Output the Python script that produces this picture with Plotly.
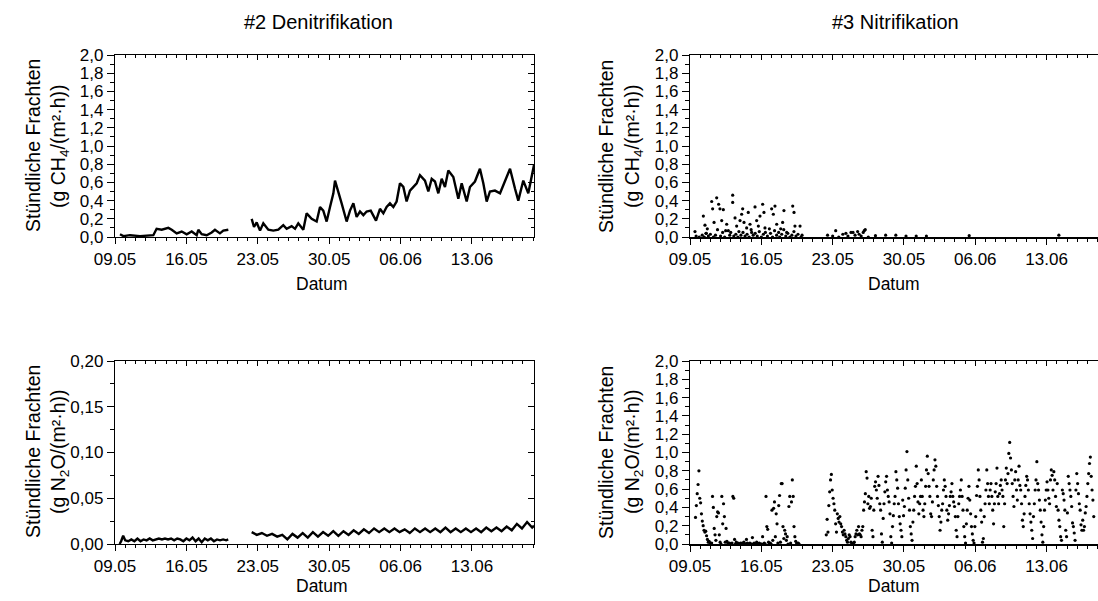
import pandas as pd
import plotly.graph_objects as go

# ---------------- data (days after 09.05) ----------------
START = pd.Timestamp("2021-05-09")

# #2 Denitrifikation - CH4 (g CH4/(m2 h)), two measuring periods
den_ch4_day_1 = [0.49, 0.82, 1.47, 2.45, 3.76, 4.08, 4.58, 5.23, 5.56, 6.05, 6.54, 7.03,
                 7.52, 8.01, 8.17, 8.50, 8.99, 9.48, 9.80, 10.29, 10.62, 11.11]
den_ch4_val_1 = [0.03, 0.01, 0.02, 0.01, 0.02, 0.09, 0.08, 0.10, 0.08, 0.04, 0.06, 0.03,
                 0.06, 0.02, 0.08, 0.03, 0.02, 0.05, 0.08, 0.04, 0.07, 0.08]
den_ch4_day_2 = [13.40, 13.63, 13.89, 14.22, 14.54, 15.03, 15.52, 16.01, 16.50, 16.83, 17.32,
                 17.65, 17.97, 18.46, 18.79, 19.28, 19.77, 20.10, 20.42, 20.75, 21.08, 21.41,
                 21.57, 21.90, 22.22, 22.71, 23.04, 23.37, 23.69, 24.02, 24.35, 24.67, 25.07,
                 25.59, 25.98, 26.31, 26.63, 26.96, 27.29, 27.61, 27.94, 28.27, 28.59, 28.92,
                 29.25, 29.58, 29.90, 30.39, 30.72, 31.05, 31.37, 31.70, 32.03, 32.35, 32.68,
                 33.17, 33.66, 33.99, 34.48, 34.80, 35.29, 35.78, 36.11, 36.44, 36.76, 37.25,
                 37.75, 38.24, 38.73, 39.22, 39.54, 40.03, 40.52, 41.08]
den_ch4_val_2 = [0.20, 0.11, 0.16, 0.07, 0.15, 0.08, 0.07, 0.08, 0.13, 0.09, 0.12,
                 0.09, 0.15, 0.08, 0.26, 0.20, 0.17, 0.33, 0.29, 0.17, 0.33, 0.48,
                 0.62, 0.48, 0.37, 0.17, 0.29, 0.37, 0.22, 0.28, 0.24, 0.28, 0.29,
                 0.18, 0.31, 0.26, 0.33, 0.37, 0.33, 0.39, 0.59, 0.55, 0.39, 0.51,
                 0.55, 0.59, 0.68, 0.62, 0.50, 0.64, 0.61, 0.48, 0.64, 0.55, 0.73,
                 0.66, 0.42, 0.59, 0.39, 0.55, 0.61, 0.75, 0.59, 0.39, 0.50, 0.51,
                 0.48, 0.62, 0.75, 0.53, 0.40, 0.62, 0.48, 0.79]

# #2 Denitrifikation - N2O (g N2O/(m2 h))
den_n2o_day_1 = [0.45, 0.60, 0.80, 1.00, 1.30, 1.60, 1.90, 2.20, 2.50, 2.80, 3.10, 3.40, 3.70,
                 4.00, 4.30, 4.60, 4.90, 5.20, 5.50, 5.80, 6.10, 6.40, 6.70, 7.00, 7.30, 7.60,
                 7.90, 8.20, 8.50, 8.80, 9.10, 9.40, 9.70, 10.00, 10.30, 10.60, 10.90, 11.10]
den_n2o_val_1 = [0.000, 0.003, 0.009, 0.004, 0.003, 0.005, 0.003, 0.006, 0.003, 0.005, 0.004,
                 0.006, 0.004, 0.005, 0.006, 0.005, 0.006, 0.005, 0.006, 0.004, 0.006, 0.005,
                 0.003, 0.006, 0.004, 0.007, 0.003, 0.006, 0.002, 0.006, 0.004, 0.006, 0.003,
                 0.005, 0.004, 0.005, 0.004, 0.005]
den_n2o_day_2 = [13.4, 13.9, 14.4, 14.9, 15.4, 15.9, 16.4, 16.9, 17.4, 17.9, 18.4, 18.9, 19.4,
                 19.9, 20.4, 20.9, 21.4, 21.9, 22.4, 22.9, 23.4, 23.9, 24.4, 24.9, 25.4, 25.9,
                 26.4, 26.9, 27.4, 27.9, 28.4, 28.9, 29.4, 29.9, 30.4, 30.9, 31.4, 31.9, 32.4,
                 32.9, 33.4, 33.9, 34.4, 34.9, 35.4, 35.9, 36.4, 36.9, 37.4, 37.9, 38.4, 38.9,
                 39.4, 39.9, 40.4, 40.9, 41.08]
den_n2o_val_2 = [0.013, 0.010, 0.012, 0.009, 0.011, 0.008, 0.010, 0.005, 0.011, 0.007, 0.012,
                 0.007, 0.013, 0.008, 0.013, 0.009, 0.014, 0.009, 0.014, 0.010, 0.015, 0.011,
                 0.016, 0.012, 0.017, 0.013, 0.017, 0.013, 0.017, 0.013, 0.016, 0.012, 0.017,
                 0.013, 0.017, 0.013, 0.017, 0.013, 0.018, 0.013, 0.017, 0.013, 0.017, 0.013,
                 0.017, 0.013, 0.018, 0.014, 0.018, 0.014, 0.019, 0.015, 0.022, 0.017, 0.024,
                 0.018, 0.020]

# #3 Nitrifikation - CH4, single readings
nit_ch4_day = [0.49, 1.31, 1.47, 1.57, 1.70, 2.13, 2.22, 2.36, 2.62, 2.81, 2.94, 3.11, 3.27,
               3.60, 3.76, 4.19, 4.19, 4.42, 4.58, 4.91, 5.07, 5.17, 5.30, 5.56, 5.72, 5.89,
               6.05, 6.38, 6.54, 6.71, 6.87, 7.13, 7.26, 7.36, 7.79, 8.01, 8.18, 8.34, 8.51,
               8.90, 9.09, 9.22, 9.49, 10.08, 10.21, 10.30, 10.80,
               0.6, 0.9, 1.2, 1.4, 1.6, 1.8, 2.0, 2.3, 2.5, 2.7, 3.0, 3.2, 3.4, 3.5, 3.9, 4.0,
               4.3, 4.5, 4.7, 4.8, 5.0, 5.2, 5.4, 5.6, 5.8, 6.0, 6.2, 6.4, 6.6, 6.8, 7.0, 7.2,
               7.4, 7.6, 7.9, 8.1, 8.3, 8.5, 8.7, 8.8, 9.0, 9.2, 9.4, 9.6, 9.8, 10.0, 10.2,
               10.4, 10.6, 10.9, 11.0,
               13.5, 14.0, 14.3, 14.6, 15.0, 15.3, 15.5, 15.8, 16.0, 16.2, 16.45, 16.6, 16.8,
               17.0, 17.1, 17.2, 17.5, 18.2, 19.2, 20.2, 21.2, 22.2, 23.2, 27.4, 36.2]
nit_ch4_val = [0.06, 0.23, 0.13, 0.04, 0.09, 0.39, 0.31, 0.16, 0.43, 0.36, 0.31, 0.18, 0.30,
               0.14, 0.07, 0.46, 0.38, 0.21, 0.12, 0.18, 0.25, 0.31, 0.16, 0.10, 0.27, 0.14,
               0.05, 0.33, 0.18, 0.12, 0.23, 0.36, 0.27, 0.10, 0.09, 0.31, 0.25, 0.34, 0.14,
               0.09, 0.16, 0.29, 0.05, 0.34, 0.27, 0.12, 0.12,
               0.01, 0.00, 0.02, 0.00, 0.04, 0.01, 0.03, 0.00, 0.02, 0.08, 0.01, 0.05, 0.00, 0.07,
               0.02, 0.05, 0.01, 0.03, 0.00, 0.06, 0.02, 0.05, 0.01, 0.03, 0.00, 0.08, 0.02,
               0.04, 0.01, 0.06, 0.00, 0.03, 0.05, 0.01, 0.04, 0.00, 0.07, 0.02, 0.05, 0.00,
               0.03, 0.08, 0.01, 0.04, 0.00, 0.02, 0.06, 0.01, 0.03, 0.00, 0.02,
               0.02, 0.01, 0.07, 0.00, 0.03, 0.04, 0.01, 0.05, 0.05, 0.02, 0.06, 0.03, 0.01,
               0.05, 0.07, 0.08, 0.00, 0.015, 0.02, 0.02, 0.01, 0.01, 0.01, 0.015, 0.02]

# #3 Nitrifikation - N2O, 2-hourly readings per day (None = no value)
nit_n2o_rows = [
    [None, None, None, None, None, None, 0.29, 0.42, 0.55, 0.65, 0.80, 0.50],
    [0.45, 0.33, 0.25, 0.20, 0.15, 0.13, 0.14, 0.09, 0.05, 0.02, 0.03, 0.01],
    [0.00, 0.01, 0.52, 0.40, 0.17, 0.10, 0.04, 0.30, 0.35, 0.34, 0.10, 0.02],
    [0.00, 0.52, 0.22, 0.44, 0.30, 0.02, 0.17, 0.03, 0.01, 0.00, 0.01, 0.00],
    [0.00, 0.01, 0.52, 0.50, 0.05, 0.00, 0.02, 0.00, 0.01, 0.00, 0.00, 0.01],
    [0.00, 0.01, 0.00, 0.02, 0.00, 0.00, 0.05, 0.01, 0.00, 0.00, 0.01, 0.00],
    [0.00, 0.07, 0.00, 0.01, 0.00, 0.00, 0.02, 0.00, 0.00, 0.01, 0.00, 0.00],
    [0.00, 0.08, 0.00, 0.01, 0.00, 0.52, 0.19, 0.16, 0.02, 0.00, 0.01, 0.00],
    [0.37, 0.04, 0.39, 0.46, 0.08, 0.33, 0.22, 0.01, 0.42, 0.53, 0.02, 0.66],
    [0.66, 0.19, 0.06, 0.15, 0.11, 0.04, 0.08, 0.00, 0.41, 0.52, 0.01, 0.46],
    [0.70, 0.52, 0.19, 0.08, 0.03, 0.01, 0.00, 0.01, 0.00, None, None, None],
    [None, None, None, None, None, None, None, None, None, None, None, None],
    [None, None, None, None, None, None, None, None, None, None, None, None],
    [None, None, None, None, 0.10, 0.27, 0.13, 0.42, 0.57, 0.70, 0.76, 0.59],
    [0.50, 0.44, 0.37, 0.22, 0.13, 0.33, 0.28, 0.24, 0.30, 0.22, 0.19, 0.13],
    [0.10, 0.15, 0.11, 0.08, 0.04, 0.02, 0.06, 0.10, 0.08, 0.02, 0.01, 0.00],
    [0.01, 0.02, 0.08, 0.11, 0.15, 0.10, 0.19, 0.11, 0.10, 0.08, 0.15, 0.19],
    [0.37, 0.46, 0.55, 0.79, 0.72, 0.44, 0.52, 0.39, 0.41, 0.50, 0.15, 0.08],
    [0.37, 0.63, 0.68, 0.59, 0.50, 0.74, 0.64, 0.44, 0.37, 0.11, 0.02, 0.28],
    [0.44, 0.57, 0.68, 0.74, 0.59, 0.52, 0.46, 0.33, 0.08, 0.01, 0.19, 0.31],
    [0.44, 0.52, 0.79, 0.70, 0.61, 0.44, 0.30, 0.22, 0.15, 0.08, 0.48, 0.31],
    [0.41, 0.61, 0.81, 1.01, 0.70, 0.50, 0.37, 0.19, 0.11, 0.04, 0.24, 0.37],
    [0.52, 0.63, 0.85, 0.66, 0.46, 0.33, 0.44, 0.52, 0.70, 0.52, 0.37, 0.30],
    [0.44, 0.63, 0.81, 0.96, 0.77, 0.63, 0.52, 0.33, 0.30, 0.46, 0.70, 0.81],
    [0.92, 0.85, 0.63, 0.52, 0.42, 0.30, 0.15, 0.24, 0.37, 0.44, 0.59, 0.70],
    [0.63, 0.52, 0.37, 0.26, 0.33, 0.42, 0.52, 0.57, 0.66, 0.52, 0.46, 0.41],
    [0.30, 0.15, 0.08, 0.30, 0.44, 0.52, 0.59, 0.70, 0.52, 0.37, 0.19, 0.08],
    [0.01, 0.22, 0.37, 0.50, 0.63, 0.48, 0.33, 0.19, 0.11, 0.04, 0.01, 0.19],
    [0.30, 0.53, 0.63, 0.81, 0.70, 0.52, 0.37, 0.24, 0.02, 0.06, 0.30, 0.44],
    [0.59, 0.81, 0.66, 0.52, 0.44, 0.59, 0.66, 0.52, 0.37, 0.22, 0.44, 0.57],
    [0.66, 0.83, 0.52, 0.44, 0.55, 0.64, 0.70, 0.59, 0.52, 0.19, 0.44, 0.70],
    [0.83, 0.66, 0.77, 0.99, 1.11, 0.94, 0.81, 0.66, 0.52, 0.41, 0.70, 0.79],
    [0.59, 0.48, 0.70, 0.85, 0.64, 0.59, 0.44, 0.26, 0.19, 0.33, 0.52, 0.64],
    [0.74, 0.70, 0.59, 0.44, 0.33, 0.24, 0.15, 0.06, 0.30, 0.44, 0.59, 0.70],
    [0.90, 0.66, 0.59, 0.48, 0.37, 0.24, 0.10, 0.02, 0.19, 0.37, 0.48, 0.59],
    [0.68, 0.59, 0.50, 0.44, 0.70, 0.81, 0.75, 0.59, 0.79, 0.70, 0.52, 0.41],
    [0.66, 0.37, 0.26, 0.19, 0.08, 0.04, 0.59, 0.55, 0.48, 0.37, 0.15, 0.08],
    [0.34, 0.74, 0.66, 0.59, 0.52, 0.41, 0.23, 0.19, 0.12, 0.04, 0.59, 0.77],
    [0.66, 0.55, 0.44, 0.37, 0.21, 0.15, 0.26, 0.15, 0.19, 0.34, 0.41, 0.52],
    [0.66, 0.77, 0.88, 0.95, 0.74, 0.59, 0.48, 0.30, None, None, None, None],
]

titles = ["#2 Denitrifikation", "#3 Nitrifikation"]
x_title = "Datum"
y_title_1 = "Stündliche Frachten"
y_title_ch4 = "(g CH<sub>4</sub>/(m²·h))"
y_title_n2o = "(g N<sub>2</sub>O/(m²·h))"

# ---------------- helpers ----------------
def to_time(days):
    return [None if d is None else START + pd.Timedelta(days=d) for d in days]

def join(d1, v1, d2, v2):
    return to_time(d1 + [None] + d2), v1 + [None] + v2

n2o_t, n2o_v = [], []
for i, row in enumerate(nit_n2o_rows):
    for k, v in enumerate(row):
        if v is not None:
            n2o_t.append(START + pd.Timedelta(days=i, hours=2 * k + 1))
            n2o_v.append(v)

W, H = 1098, 601
FONT = "Arial, Liberation Sans, sans-serif"
BLACK = "#000000"

def px(x):
    return x / W

def py(y):
    return 1 - y / H

LEFT_X = [px(115), px(534)]
RIGHT_X = [px(690), 1.0]
TOP_Y = [py(237), py(55)]
BOT_Y = [py(544), py(361)]

RANGE_L = ["2021-05-09 00:00", "2021-06-19 01:55"]
RANGE_R = ["2021-05-09 00:00", "2021-06-18 01:00"]
DAY = 86400000

fig = go.Figure()

line_style = dict(color=BLACK, width=2.4)
mk = dict(color=BLACK, size=3.2)

t, v = join(den_ch4_day_1, den_ch4_val_1, den_ch4_day_2, den_ch4_val_2)
fig.add_trace(go.Scatter(x=t, y=v, mode="lines", line=line_style, xaxis="x", yaxis="y",
                         connectgaps=False))
fig.add_trace(go.Scatter(x=to_time(nit_ch4_day), y=nit_ch4_val, mode="markers", marker=mk,
                         xaxis="x2", yaxis="y2", cliponaxis=False))
t, v = join(den_n2o_day_1, den_n2o_val_1, den_n2o_day_2, den_n2o_val_2)
fig.add_trace(go.Scatter(x=t, y=v, mode="lines", line=line_style, xaxis="x3", yaxis="y3",
                         connectgaps=False))
fig.add_trace(go.Scatter(x=n2o_t, y=n2o_v, mode="markers", marker=mk,
                         xaxis="x4", yaxis="y4", cliponaxis=False))

# empty traces that carry the mirrored (inner-tick) axes
for xa, ya in [("x5", "y"), ("x", "y5"), ("x6", "y2"), ("x7", "y3"), ("x3", "y7"), ("x8", "y4")]:
    fig.add_trace(go.Scatter(x=[], y=[], mode="markers", xaxis=xa, yaxis=ya,
                             hoverinfo="skip"))

tickfont = dict(family=FONT, size=17, color=BLACK)

def xax(domain, anchor, rng, lw=1.3):
    return dict(domain=domain, anchor=anchor, type="date", range=rng, tickformat="%d.%m",
                tick0="2021-05-09", dtick=7 * DAY, ticks="outside", ticklen=6, tickwidth=1.3,
                tickcolor=BLACK, showline=True, linecolor=BLACK, linewidth=lw,
                showgrid=False, zeroline=False, tickfont=tickfont, automargin=False,
                minor=dict(dtick=DAY, tick0="2021-05-09", ticks="outside", ticklen=3,
                           tickwidth=1.1, tickcolor=BLACK, showgrid=False),
                fixedrange=True)

def xtop(overlay, anchor, rng):
    return dict(overlaying=overlay, anchor=anchor, side="top", type="date", range=rng,
                tick0="2021-05-09", dtick=7 * DAY, ticks="inside", ticklen=5, tickwidth=1.3,
                tickcolor=BLACK, showline=True, linecolor=BLACK, linewidth=1.3,
                showgrid=False, zeroline=False, showticklabels=False, automargin=False,
                minor=dict(dtick=DAY, tick0="2021-05-09", ticks="inside", ticklen=3,
                           tickwidth=1.1, tickcolor=BLACK, showgrid=False))

def yax(domain, anchor, rng, dtick, fmt):
    return dict(domain=domain, anchor=anchor, range=rng, dtick=dtick, tick0=0,
                tickformat=fmt, ticks="outside", ticklen=7, tickwidth=1.3, tickcolor=BLACK,
                showline=True, linecolor=BLACK, linewidth=1.3, showgrid=False,
                zeroline=False, tickfont=tickfont, automargin=False,
                minor=dict(dtick=dtick / 2, ticks="outside", ticklen=4, tickwidth=1.1,
                           tickcolor=BLACK, showgrid=False),
                fixedrange=True)

def yright(overlay, anchor, rng, dtick):
    return dict(overlaying=overlay, anchor=anchor, side="right", range=rng, dtick=dtick,
                tick0=0, ticks="inside", ticklen=6, tickwidth=1.3, tickcolor=BLACK,
                showline=True, linecolor=BLACK, linewidth=1.3, showgrid=False,
                zeroline=False, showticklabels=False, automargin=False,
                minor=dict(dtick=dtick / 2, ticks="inside", ticklen=3, tickwidth=1.1,
                           tickcolor=BLACK, showgrid=False))

fig.update_layout(
    template="none",
    width=W, height=H, margin=dict(l=0, r=0, t=0, b=0, pad=0, autoexpand=False),
    showlegend=False,
    paper_bgcolor="white", plot_bgcolor="white", separators=",.",
    font=dict(family=FONT, color=BLACK),
    xaxis=xax(LEFT_X, "y", RANGE_L),
    yaxis=yax(TOP_Y, "x", [0, 2.0], 0.2, ".1f"),
    xaxis2=xax(RIGHT_X, "y2", RANGE_R, lw=2),
    yaxis2=yax(TOP_Y, "x2", [0, 2.0], 0.2, ".1f"),
    xaxis3=xax(LEFT_X, "y3", RANGE_L),
    yaxis3=yax(BOT_Y, "x3", [0, 0.2], 0.05, ".2f"),
    xaxis4=xax(RIGHT_X, "y4", RANGE_R, lw=2),
    yaxis4=yax(BOT_Y, "x4", [0, 2.0], 0.2, ".1f"),
    xaxis5=xtop("x", "y", RANGE_L),
    yaxis5=yright("y", "x", [0, 2.0], 0.2),
    xaxis6=xtop("x2", "y2", RANGE_R),
    xaxis7=xtop("x3", "y3", RANGE_L),
    yaxis7=yright("y3", "x3", [0, 0.2], 0.05),
    xaxis8=xtop("x4", "y4", RANGE_R),
)

ann = []
def text(x, y, s, size, angle=0):
    ann.append(dict(x=px(x), y=py(y), xref="paper", yref="paper", text=s, showarrow=False,
                    textangle=angle, xanchor="center", yanchor="middle",
                    font=dict(family=FONT, size=size, color=BLACK)))

text(318, 22, titles[0], 20)
text(895, 22, titles[1], 20)
for cx in (322, 894):
    text(cx, 284, x_title, 17.5)
    text(cx, 586, x_title, 17.5)
for x1, x2 in ((33, 59), (606, 633)):
    text(x1, 146, y_title_1, 19.5, -90)
    text(x2, 146, y_title_ch4, 19.5, -90)
    text(x1, 452, y_title_1, 19.5, -90)
    text(x2, 452, y_title_n2o, 19.5, -90)
fig.update_layout(annotations=ann)

fig.write_html("out.html")
